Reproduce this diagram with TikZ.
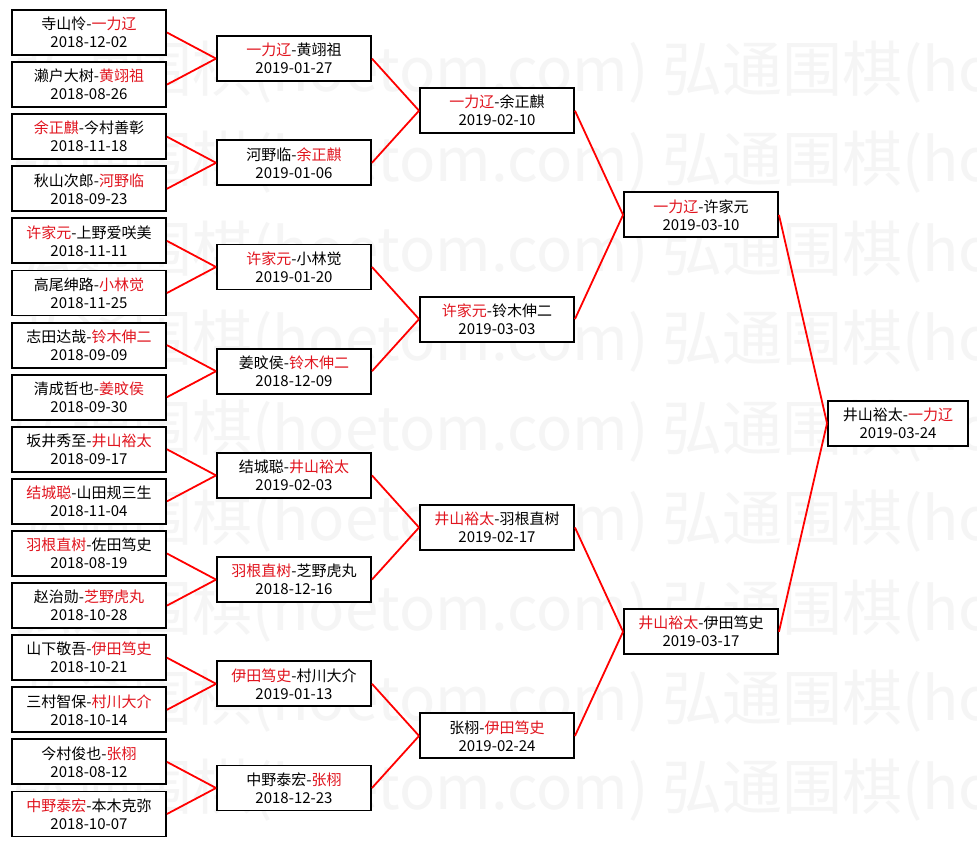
\documentclass[tikz,border=0pt]{standalone}
\usepackage{fontspec}
\newfontfamily\cjk{Noto Sans CJK SC}
\definecolor{winred}{RGB}{225,20,30}
\newcommand{\win}[1]{\textcolor{winred}{#1}}
\tikzset{
  match/.style={draw, line width=1.9pt, fill=white, minimum width=154pt, minimum height=45pt,
    inner sep=0pt, align=center, font=\cjk\fontsize{15}{18}\selectfont},
  link/.style={red, line width=1.8pt},
  wmark/.style={anchor=base west, inner sep=0pt, text=black!4, font=\cjk\fontsize{60}{60}\selectfont}
}
\begin{document}
\begin{tikzpicture}[x=1pt, y=1pt, yscale=-1]
    % page
    \fill [white] (0, 0) rectangle (977, 845);
    \useasboundingbox (0, 0) rectangle (977, 845);
    % watermark
    \begin{scope}
    \clip (0, 0) rectangle (977, 845);
    \foreach \k in {0,...,8} {
        \node [wmark] (wml\k) at (12, {91.5+89.8*\k}) {弘通围棋(hoetom.com)};
        \node [wmark] (wmr\k) at (662, {91.5+89.8*\k}) {弘通围棋(hoetom.com)};
    }
    \end{scope}
    % first round
    \node [match] (ra1) at (89, 32.5) {寺山怜-\win{一力辽}\\2018-12-02};
    \node [match] (ra2) at (89, 84.6) {濑户大树-\win{黄翊祖}\\2018-08-26};
    \node [match] (ra3) at (89, 136.7) {\win{余正麒}-今村善彰\\2018-11-18};
    \node [match] (ra4) at (89, 188.8) {秋山次郎-\win{河野临}\\2018-09-23};
    \node [match] (ra5) at (89, 240.9) {\win{许家元}-上野爱咲美\\2018-11-11};
    \node [match] (ra6) at (89, 293.0) {高尾绅路-\win{小林觉}\\2018-11-25};
    \node [match] (ra7) at (89, 345.1) {志田达哉-\win{铃木伸二}\\2018-09-09};
    \node [match] (ra8) at (89, 397.2) {清成哲也-\win{姜旼侯}\\2018-09-30};
    \node [match] (ra9) at (89, 449.3) {坂井秀至-\win{井山裕太}\\2018-09-17};
    \node [match] (ra10) at (89, 501.4) {\win{结城聪}-山田规三生\\2018-11-04};
    \node [match] (ra11) at (89, 553.5) {\win{羽根直树}-佐田笃史\\2018-08-19};
    \node [match] (ra12) at (89, 605.6) {赵治勋-\win{芝野虎丸}\\2018-10-28};
    \node [match] (ra13) at (89, 657.7) {山下敬吾-\win{伊田笃史}\\2018-10-21};
    \node [match] (ra14) at (89, 709.8) {三村智保-\win{村川大介}\\2018-10-14};
    \node [match] (ra15) at (89, 761.9) {今村俊也-\win{张栩}\\2018-08-12};
    \node [match] (ra16) at (89, 814.0) {\win{中野泰宏}-本木克弥\\2018-10-07};
    % second round
    \node [match] (rb1) at (294, 58.6) {\win{一力辽}-黄翊祖\\2019-01-27};
    \node [match] (rb2) at (294, 162.8) {河野临-\win{余正麒}\\2019-01-06};
    \node [match] (rb3) at (294, 267.0) {\win{许家元}-小林觉\\2019-01-20};
    \node [match] (rb4) at (294, 371.2) {姜旼侯-\win{铃木伸二}\\2018-12-09};
    \node [match] (rb5) at (294, 475.4) {结城聪-\win{井山裕太}\\2019-02-03};
    \node [match] (rb6) at (294, 579.6) {\win{羽根直树}-芝野虎丸\\2018-12-16};
    \node [match] (rb7) at (294, 683.8) {\win{伊田笃史}-村川大介\\2019-01-13};
    \node [match] (rb8) at (294, 788.0) {中野泰宏-\win{张栩}\\2018-12-23};
    % quarter finals
    \node [match] (rc1) at (497, 110.7) {\win{一力辽}-余正麒\\2019-02-10};
    \node [match] (rc2) at (497, 319.1) {\win{许家元}-铃木伸二\\2019-03-03};
    \node [match] (rc3) at (497, 527.5) {\win{井山裕太}-羽根直树\\2019-02-17};
    \node [match] (rc4) at (497, 735.9) {张栩-\win{伊田笃史}\\2019-02-24};
    % semi finals
    \node [match] (rd1) at (701, 214.9) {\win{一力辽}-许家元\\2019-03-10};
    \node [match] (rd2) at (701, 631.7) {\win{井山裕太}-伊田笃史\\2019-03-17};
    % final
    \node [match, minimum width=140pt] (re1) at (898, 423.3) {井山裕太-\win{一力辽}\\2019-03-24};
    % links
    \foreach \lo/\hi/\cnt in {ra/rb/8, rb/rc/4, rc/rd/2, rd/re/1} {
        \foreach \n in {1,...,\cnt} {
            \pgfmathtruncatemacro\i{2*\n-1}
            \pgfmathtruncatemacro\j{2*\n}
            \draw [link] (\lo\i.east) -- (\hi\n.west);
            \draw [link] (\lo\j.east) -- (\hi\n.west);
        }
    }
\end{tikzpicture}
\end{document}
